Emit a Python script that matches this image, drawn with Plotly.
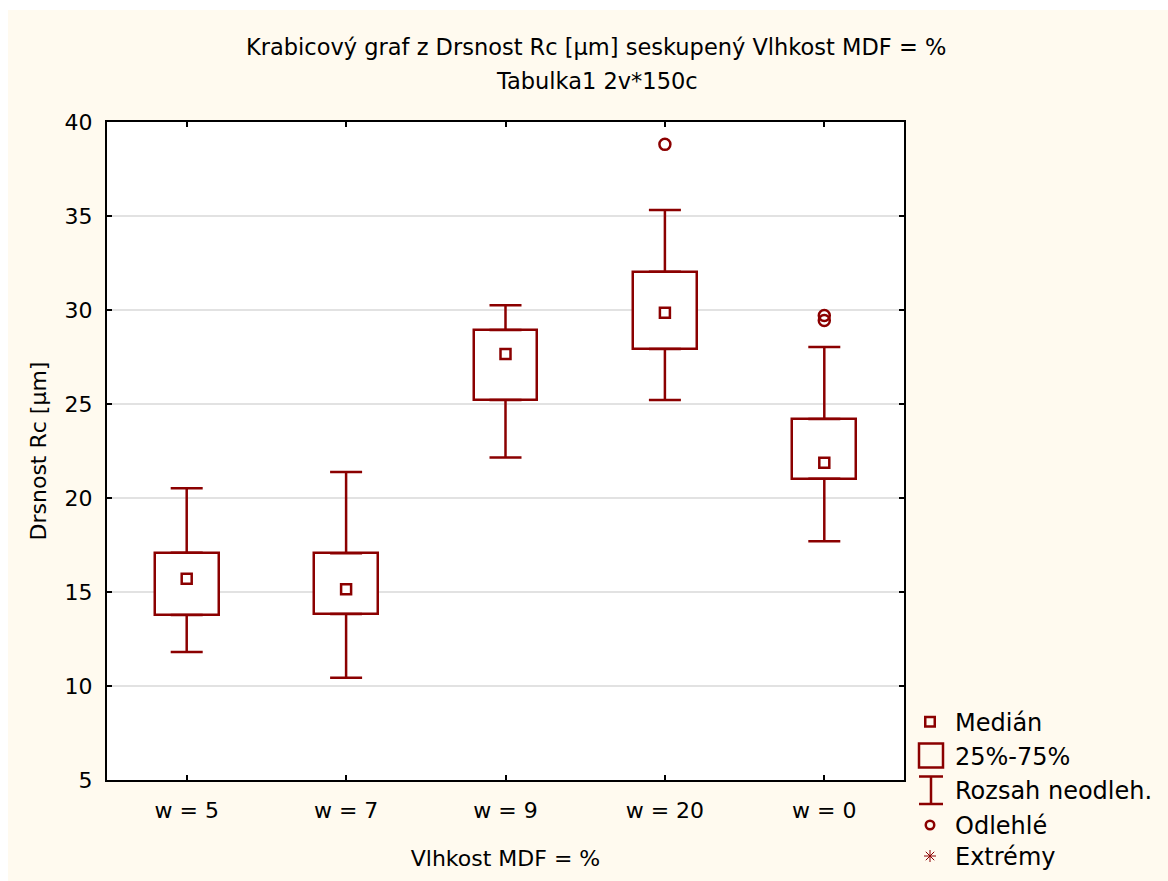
import plotly.graph_objects as go

# ---- data ----
categories = ["w = 5", "w = 7", "w = 9", "w = 20", "w = 0"]
median = [15.71, 15.14, 27.66, 29.86, 21.88]
q1 = [13.78, 13.83, 25.21, 27.93, 21.03]
q3 = [17.09, 17.06, 28.94, 32.04, 24.20]
whisker_low = [11.81, 10.44, 22.16, 25.21, 17.70]
whisker_high = [20.52, 21.38, 30.25, 35.32, 28.03]
outlier_cat = ["w = 20", "w = 0", "w = 0"]
outlier_val = [38.81, 29.71, 29.44]
y_ticks = [5, 10, 15, 20, 25, 30, 35, 40]

legend_labels = ["Medián", "25%-75%", "Rozsah neodleh.", "Odlehlé", "Extrémy"]

title_text = "Krabicový graf z Drsnost Rc [µm] seskupený Vlhkost MDF = %"
subtitle_text = "Tabulka1 2v*150c"
x_title = "Vlhkost MDF = %"
y_title = "Drsnost Rc [µm]"

# ---- style ----
RED = "#8B0000"
BEIGE = "#FFFAEF"
FONT = "DejaVu Sans"
LW = 2.5
W, H = 1168, 881
L, T = 107, 122          # plot-area left / top (px)
PR, PB = 904, 780        # plot-area right / bottom (px)

def px_x(px):
    return (px - L) / (W - L)

def px_y(py):
    return (H - py) / (H - T)

fig = go.Figure()

# boxes (25%-75%)
fig.add_trace(go.Bar(
    x=categories,
    y=[b - a for a, b in zip(q1, q3)],
    base=q1,
    width=0.4,
    marker=dict(color="white", line=dict(color=RED, width=LW)),
    showlegend=False, hoverinfo="skip",
))
# upper whiskers
fig.add_trace(go.Scatter(
    x=categories, y=q3, mode="markers",
    marker=dict(size=1, color="rgba(0,0,0,0)"),
    error_y=dict(type="data", symmetric=False,
                 array=[h - b for b, h in zip(q3, whisker_high)],
                 arrayminus=[0] * len(q3),
                 color=RED, thickness=LW, width=16),
    showlegend=False, hoverinfo="skip",
))
# lower whiskers
fig.add_trace(go.Scatter(
    x=categories, y=q1, mode="markers",
    marker=dict(size=1, color="rgba(0,0,0,0)"),
    error_y=dict(type="data", symmetric=False,
                 array=[0] * len(q1),
                 arrayminus=[a - l for a, l in zip(q1, whisker_low)],
                 color=RED, thickness=LW, width=16),
    showlegend=False, hoverinfo="skip",
))
# medians
fig.add_trace(go.Scatter(
    x=categories, y=median, mode="markers",
    marker=dict(symbol="square-open", size=10, color=RED, line=dict(width=LW, color=RED)),
    showlegend=False,
))
# outliers
fig.add_trace(go.Scatter(
    x=outlier_cat, y=outlier_val, mode="markers",
    marker=dict(symbol="circle-open", size=11, color=RED, line=dict(width=LW, color=RED)),
    showlegend=False,
))

# ---- hand-made legend on an auxiliary pixel-like axis ----
leg_x = 930
leg_y = [721.7, 755.5, 790.3, 825, 856]
fig.add_trace(go.Scatter(
    x=[leg_x], y=[leg_y[0]], xaxis="x2", yaxis="y2", mode="markers",
    marker=dict(symbol="square-open", size=9.5, color=RED, line=dict(width=LW, color=RED)),
    showlegend=False, hoverinfo="skip"))
fig.add_trace(go.Scatter(
    x=[leg_x + 1], y=[leg_y[1]], xaxis="x2", yaxis="y2", mode="markers",
    marker=dict(symbol="square-open", size=24, color=RED, line=dict(width=LW, color=RED)),
    showlegend=False, hoverinfo="skip"))
fig.add_trace(go.Scatter(
    x=[leg_x + 1], y=[leg_y[2]], xaxis="x2", yaxis="y2", mode="markers",
    marker=dict(size=1, color="rgba(0,0,0,0)"),
    error_y=dict(type="constant", value=13.7, color=RED, thickness=LW, width=12),
    showlegend=False, hoverinfo="skip"))
fig.add_trace(go.Scatter(
    x=[leg_x], y=[leg_y[3]], xaxis="x2", yaxis="y2", mode="markers",
    marker=dict(symbol="circle-open", size=8.5, color=RED, line=dict(width=LW, color=RED)),
    showlegend=False, hoverinfo="skip"))
fig.add_trace(go.Scatter(
    x=[leg_x], y=[leg_y[4]], xaxis="x2", yaxis="y2", mode="markers",
    marker=dict(symbol="asterisk-open", size=10, color=RED, line=dict(width=1, color=RED)),
    showlegend=False, hoverinfo="skip"))

annotations = []
for lab, yy in zip(legend_labels, leg_y):
    annotations.append(dict(
        text=lab, x=953, y=yy + 1, xref="x2", yref="y2",
        xanchor="left", yanchor="middle", showarrow=False,
        font=dict(family=FONT, size=24, color="black")))

annotations.append(dict(
    text=title_text, x=px_x(596), xref="paper", y=px_y(47), yref="paper",
    xanchor="center", yanchor="middle", showarrow=False,
    font=dict(family=FONT, size=22.5, color="black")))
annotations.append(dict(
    text=subtitle_text, x=px_x(597), xref="paper", y=px_y(81), yref="paper",
    xanchor="center", yanchor="middle", showarrow=False,
    font=dict(family=FONT, size=22.5, color="black")))

shapes = [
    dict(type="rect", xref="paper", yref="paper",
         x0=px_x(8), x1=1.01, y0=-0.01, y1=px_y(10),
         fillcolor=BEIGE, line=dict(width=0), layer="below"),
    dict(type="rect", xref="x domain", yref="y domain",
         x0=0, x1=1, y0=0, y1=1,
         fillcolor="white", line=dict(width=0), layer="below"),
]

fig.update_layout(
    width=W, height=H,
    margin=dict(l=L, r=0, t=T, b=0, pad=0, autoexpand=False),
    paper_bgcolor="white",
    plot_bgcolor="rgba(0,0,0,0)",
    showlegend=False,
    font=dict(family=FONT, color="black"),
    annotations=annotations,
    shapes=shapes,
    xaxis=dict(
        domain=[0, px_x(PR)],
        type="category",
        range=[-0.5, len(categories) - 0.5],
        showline=True, linecolor="black", linewidth=2, mirror="ticks",
        ticks="inside", ticklen=5, tickwidth=2, tickcolor="black",
        showgrid=False, zeroline=False, automargin=False,
        tickfont=dict(family=FONT, size=22, color="black"),
        ticklabelstandoff=10,
        title=dict(text=x_title, font=dict(family=FONT, size=22, color="black"), standoff=28),
        anchor="y",
    ),
    yaxis=dict(
        domain=[px_y(PB), 1],
        range=[5, 40],
        tickvals=y_ticks,
        showline=True, linecolor="black", linewidth=2, mirror="ticks",
        ticks="inside", ticklen=5, tickwidth=2, tickcolor="black",
        showgrid=True, gridcolor="#E2E2E2", gridwidth=1.5,
        zeroline=False, automargin=False,
        tickfont=dict(family=FONT, size=22, color="black"),
        ticklabelstandoff=8,
        title=dict(text=y_title, font=dict(family=FONT, size=22, color="black"), standoff=12),
        anchor="x",
    ),
    xaxis2=dict(domain=[px_x(PR), 1], range=[PR, W], visible=False,
                anchor="y2", fixedrange=True, automargin=False),
    yaxis2=dict(domain=[0, px_y(690)], range=[H, 690], visible=False,
                anchor="x2", fixedrange=True, automargin=False),
    bargap=0,
)

fig.write_html("out.html")
